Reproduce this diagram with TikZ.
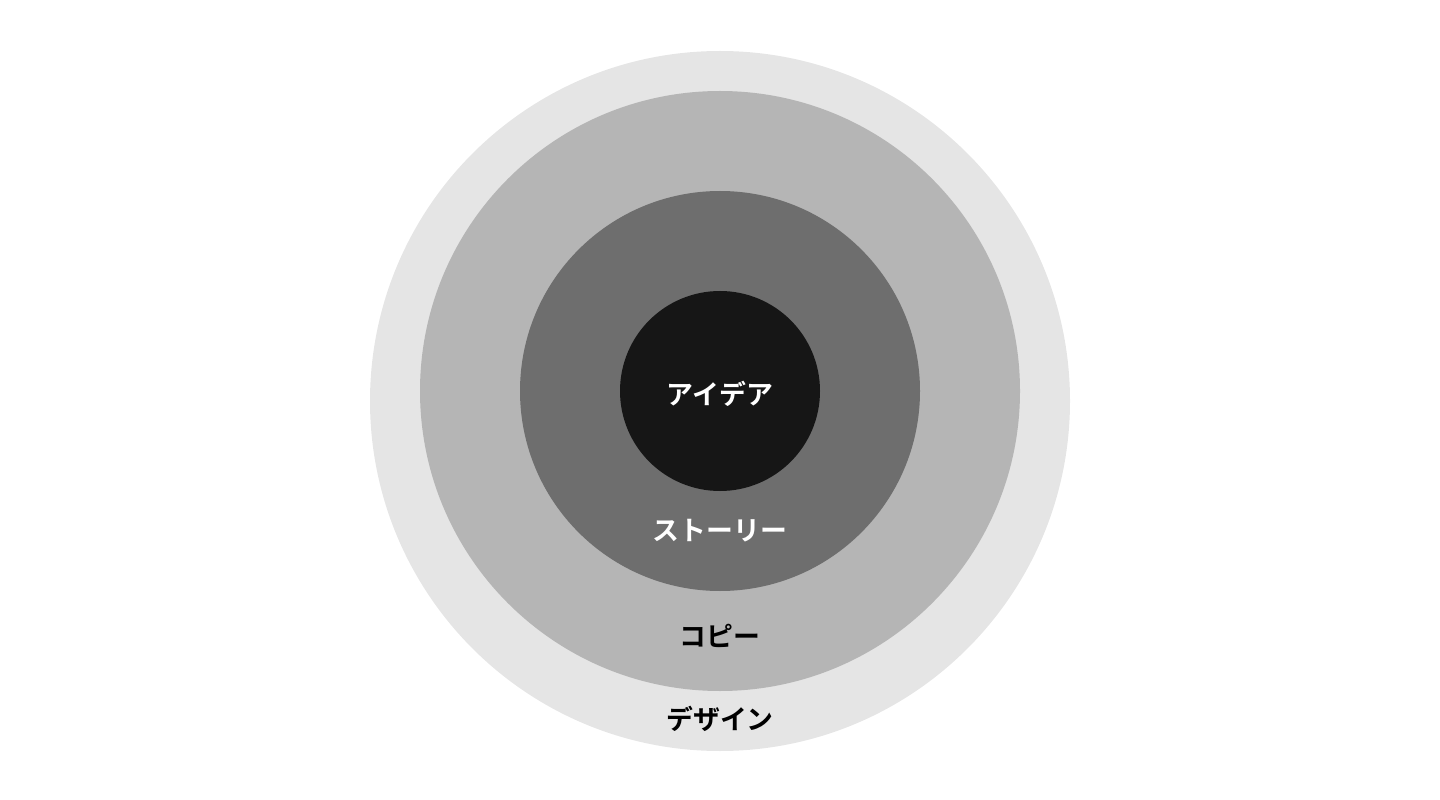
\documentclass[tikz,border=0pt]{standalone}
\usepackage{fontspec}
\newfontfamily\cjk{Noto Sans CJK JP}[BoldFont={Noto Sans CJK JP Bold}]
\definecolor{ringdesign}{HTML}{E5E5E5}
\definecolor{ringcopy}{HTML}{B5B5B5}
\definecolor{ringstory}{HTML}{6E6E6E}
\definecolor{ringidea}{HTML}{161616}
\tikzset{
  ringlabel/.style={font=\cjk\bfseries\fontsize{15.3}{18}\selectfont, inner sep=0pt}
}
\begin{document}
\begin{tikzpicture}[x=0.02cm, y=-0.02cm]
    % Canvas
    \useasboundingbox (0,0) rectangle (1440,800);

    % Define centres
    \coordinate (Outer) at (720,401);
    \coordinate (O) at (720,391);

    % Draw rings
    \fill[ringdesign] (Outer) circle (350);
    \fill[ringcopy] (O) circle (300);
    \fill[ringstory] (O) circle (200);
    \fill[ringidea] (O) circle (100);

    % Labels
    \node[ringlabel, text=white] (idea) at (720,394) {アイデア};
    \node[ringlabel, text=white] (story) at (720,531) {ストーリー};
    \node[ringlabel, text=black] (copy) at (720,636) {コピー};
    \node[ringlabel, text=black] (design) at (720,719) {デザイン};
\end{tikzpicture}
\end{document}
